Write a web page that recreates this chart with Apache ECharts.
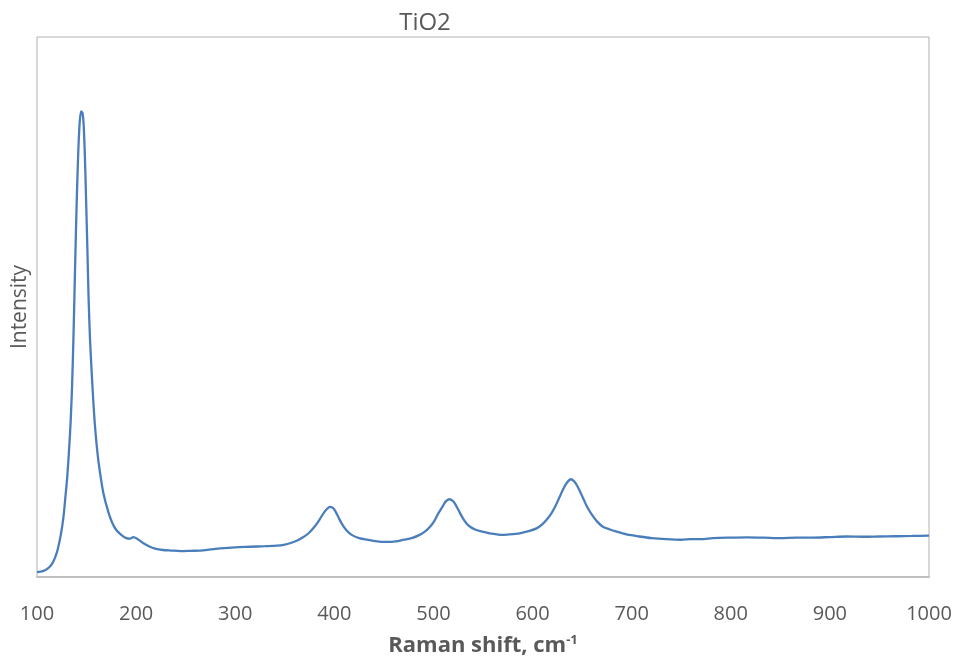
<!DOCTYPE html>
<html>
<head>
<meta charset="utf-8">
<script src="https://cdn.jsdelivr.net/npm/echarts@6/dist/echarts.min.js"></script>
<style>
    html, body { margin: 0; padding: 0; background: #fff; }
    #chart { width: 957px; height: 656px; }
</style>
</head>
<body>
<div id="chart"></div>
<script>
    // values
    var ramanShift = [100, 106, 111, 115, 118, 121, 124, 126.5, 128.5, 130.5, 132.5, 134, 135.5, 137, 138.5, 140, 141.5, 143, 144.5, 145.8,
        147, 148.3, 149.5, 150.8, 152, 153.5, 155.2, 157, 158.5, 161, 163.6, 167, 172, 176, 180, 185, 190, 194, 197, 201,
        207, 214, 220, 227, 235, 245, 255, 265, 275, 285, 300, 315, 330, 342, 350, 356, 362, 368, 374, 380,
        385, 389, 392.5, 395.5, 398.5, 401, 404, 407.5, 412, 417.5, 425, 433, 443, 453, 462, 470, 478, 486, 492, 497,
        501, 505, 509, 512.5, 516, 519.5, 522, 525.5, 529, 533, 537, 542, 547, 557, 567, 577, 587, 596, 604, 610,
        615, 619, 623, 627.5, 631, 634.5, 638.5, 642, 645, 648, 651, 655, 660, 665, 671, 678, 685, 695, 708, 720,
        735, 750, 760, 770, 782, 800, 816, 833, 850, 866, 883, 900, 917, 934, 950, 966, 983, 1000];
    var intensity = [0.9, 1.1, 1.6, 2.4, 3.5, 5.2, 7.8, 10.8, 14.5, 18.5, 24, 29, 36, 46, 58, 69, 78, 84, 86.2, 86,
        84, 78, 70, 61, 52, 44, 37.8, 32, 28, 23, 19.3, 15.5, 12, 10, 8.7, 7.8, 7.2, 7.1, 7.4, 7.1,
        6.3, 5.6, 5.2, 5.0, 4.9, 4.8, 4.85, 4.9, 5.1, 5.3, 5.5, 5.6, 5.7, 5.8, 6.0, 6.3, 6.7, 7.3, 8.1, 9.3,
        10.6, 11.8, 12.6, 13.0, 12.8, 12.2, 11.1, 9.9, 8.7, 7.8, 7.2, 6.9, 6.6, 6.5, 6.6, 6.9, 7.2, 7.8, 8.5, 9.4,
        10.4, 11.8, 13.0, 14.0, 14.4, 14.1, 13.5, 12.3, 11.1, 10.0, 9.3, 8.8, 8.5, 8.1, 7.8, 7.9, 8.1, 8.5, 9.0, 9.8,
        10.8, 11.8, 13.1, 14.9, 16.3, 17.4, 18.1, 17.7, 16.9, 15.8, 14.6, 13.0, 11.5, 10.3, 9.3, 8.8, 8.4, 7.9, 7.5, 7.2,
        7.0, 6.9, 7.0, 7.0, 7.2, 7.3, 7.35, 7.3, 7.2, 7.3, 7.3, 7.4, 7.5, 7.45, 7.5, 7.55, 7.6, 7.65];

    var data = [];
    for (var i = 0; i < ramanShift.length; i++) {
        data.push([ramanShift[i], intensity[i]]);
    }

    var font = '"Open Sans", sans-serif';
    var myChart = echarts.init(document.getElementById('chart'));
    var option = {
        animation: false,
        title: {
            text: 'TiO2',
            left: 420,
            textAlign: 'center',
            top: 6,
            textStyle: {
                fontFamily: font,
                fontSize: 24,
                fontWeight: 'normal',
                color: '#595959'
            }
        },
        grid: {
            left: 37,
            right: 28,
            top: 37,
            bottom: 79,
            outerBoundsMode: 'none',
            containLabel: false,
            show: true,
            borderColor: '#b0b0b0',
            borderWidth: 1
        },
        xAxis: {
            type: 'value',
            min: 100,
            max: 1000,
            interval: 100,
            axisLine: { lineStyle: { color: '#c0c0c0', width: 2 } },
            axisTick: { show: false },
            splitLine: { show: false },
            axisLabel: {
                margin: 27,
                fontFamily: font,
                fontSize: 20,
                color: '#595959',
                formatter: function(v) {
                    return String(v);
                }
            },
            name: '{n|Raman shift, cm}{s|-1}',
            nameLocation: 'middle',
            nameGap: 57,
            nameTextStyle: {
                rich: {
                    n: { fontFamily: font, fontSize: 22, fontWeight: 'bold', color: '#595959' },
                    s: { fontFamily: font, fontSize: 13, fontWeight: 'bold', color: '#595959', verticalAlign: 'top', padding: [0, 0, 10, 0] }
                }
            }
        },
        yAxis: {
            type: 'value',
            min: 0,
            max: 100,
            axisLine: { show: false },
            axisTick: { show: false },
            axisLabel: { show: false },
            splitLine: { show: false },
            name: 'Intensity',
            nameLocation: 'middle',
            nameGap: 6,
            nameTextStyle: {
                fontFamily: font,
                fontSize: 21,
                color: '#595959'
            }
        },
        series: [{
            type: 'line',
            data: data,
            smooth: 0.3,
            showSymbol: false,
            lineStyle: { color: '#4a7ebb', width: 2.3 }
        }]
    };
    myChart.setOption(option);
</script>
</body>
</html>
